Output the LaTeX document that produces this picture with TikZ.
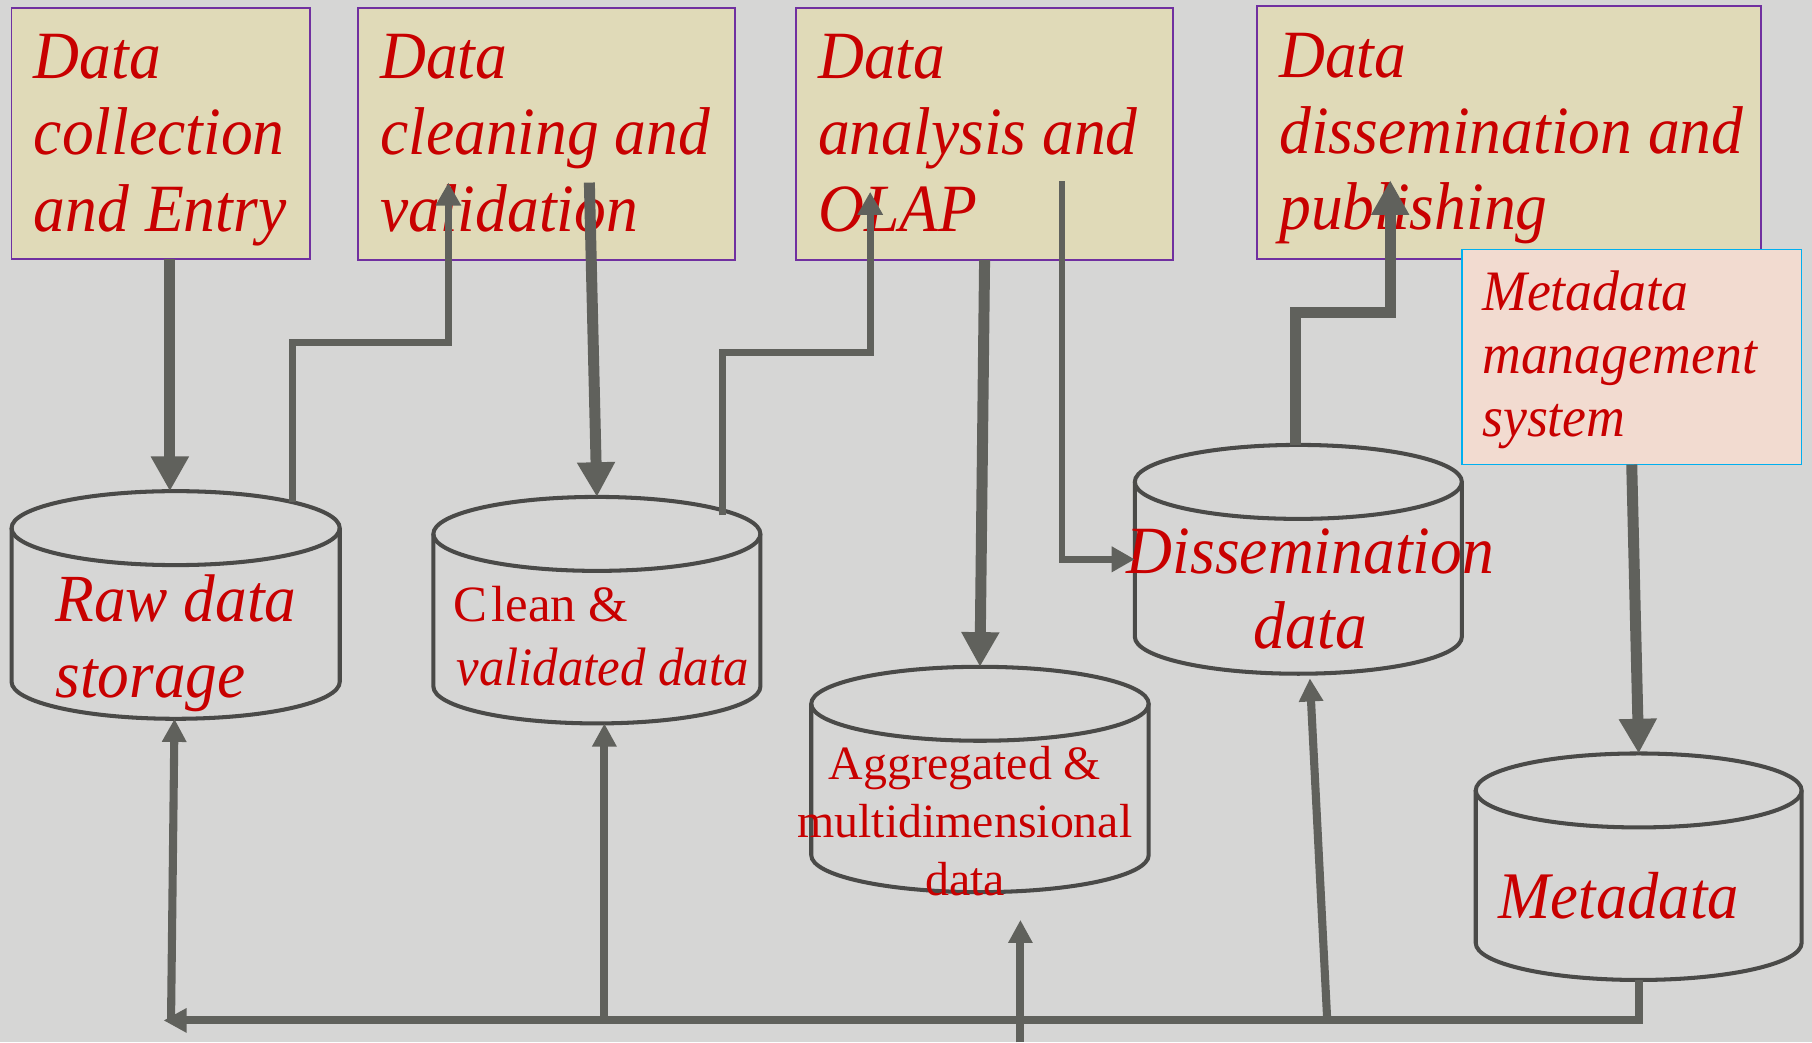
\documentclass[tikz,border=0pt]{standalone}
\usepackage{fontspec}
\setmainfont{Liberation Serif}
\newfontfamily\rfont[FakeStretch=0.94]{Liberation Serif}
\usetikzlibrary{arrows.meta,calc}
\definecolor{bgc}{RGB}{214,214,213}
\definecolor{boxfill}{RGB}{224,218,184}
\definecolor{boxline}{RGB}{112,48,160}
\definecolor{mdfill}{RGB}{242,219,208}
\definecolor{mdline}{RGB}{0,176,240}
\definecolor{txtred}{RGB}{200,0,0}
\definecolor{arrc}{RGB}{96,97,92}
\definecolor{cylc}{RGB}{74,74,72}
\tikzset{
  boxst/.style={draw=boxline, line width=1.5pt, fill=boxfill, inner sep=0pt, outer sep=0pt, anchor=north west},
  mdbox/.style={draw=mdline, line width=1.5pt, fill=mdfill, inner sep=0pt, outer sep=0pt, anchor=north west},
  cylnode/.style={rectangle, inner sep=0pt, outer sep=0pt},
  cylline/.style={draw=cylc, line width=3.5pt},
  txt/.style={text=txtred, inner sep=0pt, outer sep=0pt, align=left, anchor=north west},
  ctxt/.style={text=txtred, inner sep=0pt, outer sep=0pt, align=center, anchor=north},
  thickarr/.style={draw=arrc, line width=9.5pt, line join=miter, -{Triangle[length=30pt,width=31pt]}},
  thinarr/.style={draw=arrc, line width=6pt, line join=miter, -{Triangle[length=20pt,width=21pt]}},
  busarr/.style={draw=arrc, line width=7pt, line join=miter, -{Triangle[length=20pt,width=20pt]}},
}
\newcommand{\boxfont}{\rfont\fontsize{58.5}{66}\selectfont\itshape}
\newcommand{\dbcyl}[5]{%
  \pgfmathsetmacro\cyCx{(#2+#3)/2}%
  \pgfmathsetmacro\cyRx{(#3-#2)/2}%
  \pgfmathsetmacro\cyYt{#4+32}%
  \pgfmathsetmacro\cyYb{#5-32}%
  \pgfmathsetmacro\cyKx{0.5523*\cyRx}%
  \pgfmathsetmacro\cyKy{#5-32+0.5523*32}%
  \pgfmathsetmacro\cyW{#3-#2}%
  \pgfmathsetmacro\cyH{#5-#4}%
  \pgfmathsetmacro\cyMy{(#4+#5)/2}%
  \node[cylnode, minimum width=\cyW pt, minimum height=\cyH pt] (#1) at (\cyCx,\cyMy) {};
  \draw[cylline] (\cyCx,\cyYt) ellipse [x radius=\cyRx, y radius=32];
  \draw[cylline] (#2,\cyYt) -- (#2,\cyYb) .. controls (#2,\cyKy) and ({\cyCx-\cyKx},#5) .. (\cyCx,#5) .. controls ({\cyCx+\cyKx},#5) and (#3,\cyKy) .. (#3,\cyYb) -- (#3,\cyYt);
}
\begin{document}
\begin{tikzpicture}[x=1pt,y=-1pt]
\useasboundingbox (0,0) rectangle (1568,902);
\fill[bgc] (0,0) rectangle (1568,902);

% process boxes
\node[boxst, minimum width=258pt, minimum height=217pt] (b1) at (10,7) {};
\node[boxst, minimum width=326pt, minimum height=218pt] (b2) at (310,7) {};
\node[boxst, minimum width=326pt, minimum height=218pt] (b3) at (689,7) {};
\node[boxst, minimum width=436pt, minimum height=219pt] (b4) at (1088,5) {};
\node[txt, font=\boxfont] (t1) at (29.4,29.6) {Data\\collection\\and Entry};
\node[txt, font=\boxfont] (t2) at (329,29.6) {Data\\cleaning and\\validation};
\node[txt, font=\boxfont] (t3) at (708,29.6) {Data\\analysis and\\OLAP};
\node[txt, font=\boxfont] (t4) at (1107,28.7) {Data\\dissemination and\\publishing};
\node[mdbox, minimum width=294pt, minimum height=186pt] (mb) at (1265,216) {};
\node[txt, font=\rfont\fontsize{49.5}{54.5}\selectfont\itshape] (tmb) at (1282.6,234.2) {Metadata\\management\\system};

% databases
\dbcyl{raw}{10}{294}{425}{622}
\dbcyl{clean}{375}{658}{430}{626}
\dbcyl{agg}{702}{994}{577}{772}
\dbcyl{dis}{982}{1265}{385}{583}
\dbcyl{meta}{1277}{1559}{652}{848}

\node[txt, font=\rfont\fontsize{58.3}{65}\selectfont\itshape] (traw) at (48,497.7) {Raw data\\storage};
\node[txt, font=\fontsize{44}{55}\selectfont] (tclean) at (392,507.4) {C\kern4pt lean \&\\\hspace*{3pt}{\rfont\fontsize{46.8}{55}\selectfont\itshape validated data}};
\node[ctxt, font=\fontsize{41.4}{50}\selectfont] (tagg) at (835,646) {Aggregated \&\\multidimensional\\data};
\node[ctxt, font=\rfont\fontsize{58.5}{65}\selectfont\itshape] (tdis) at (1134,457.7) {Dissemination\\data};
\node[txt, font=\rfont\fontsize{57.6}{60}\selectfont\itshape] (tmeta) at (1297,754.7) {Metadata};

% free ends
\coordinate (busL) at (141.5,883);
\coordinate (bottomA) at (883,902);

% connectors
\draw[thickarr] ([xshift=-5pt]raw.north |- b1.south) -- ([xshift=-5pt]raw.north);
\draw[thinarr] ([xshift=101.5pt,yshift=-9pt]raw.north) -- ++(0,-138) -| ([xshift=78pt,yshift=-151pt]b2.north west);
\draw[thickarr] ([xshift=200pt,yshift=-151pt]b2.north west) -- (clean.north);
\draw[thinarr] ([xshift=109pt,yshift=-16pt]clean.north) -- ++(0,-141) -| ([xshift=64pt,yshift=-159pt]b3.north west);
\draw[thickarr] ([xshift=163pt]b3.south west) -- (agg.north);
\draw[thinarr] ([xshift=230pt,yshift=-150pt]b3.north west) |- (dis.west);
\draw[thickarr] ([xshift=-2.5pt]dis.north) -- ++(0,-115) -| ([xshift=115pt,yshift=-151pt]b4.north west);
\draw[thickarr] (mb.south) -- (meta.north);

% bottom bus
\draw[busarr] (meta.south) |- (busL);
\draw[busarr] ([xshift=6.5pt]busL) -- ([xshift=-1pt]raw.south);
\draw[busarr] ([xshift=6.5pt]clean.south |- busL) -- ([xshift=6.5pt]clean.south);
\draw[busarr] (bottomA) -- ([xshift=35pt,yshift=-24pt]agg.south);
\draw[busarr] ([xshift=25pt]dis.south |- busL) -- ([xshift=10pt,yshift=-4pt]dis.south);
\end{tikzpicture}
\end{document}
